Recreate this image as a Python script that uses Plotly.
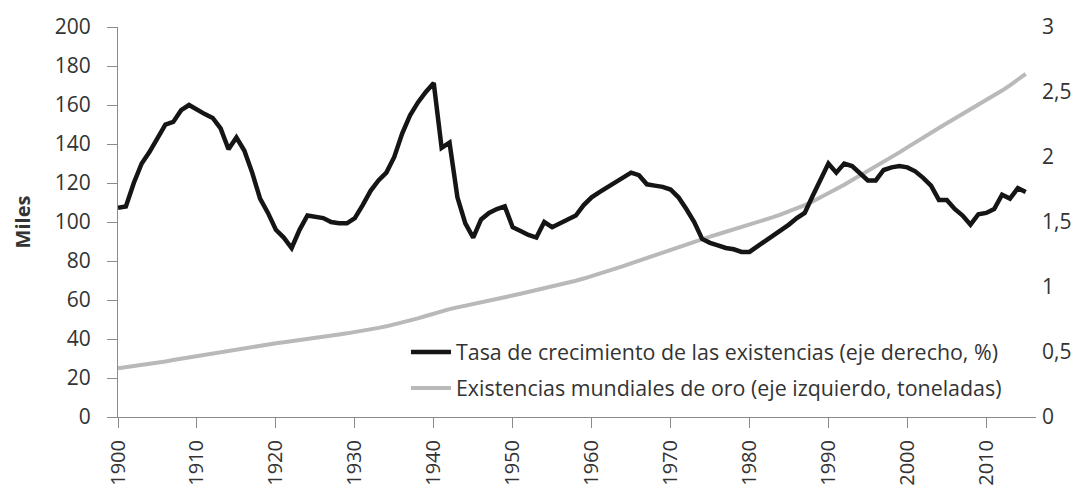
import plotly.graph_objects as go

# years 1900-2015
years = list(range(1900, 2016))

# growth rate of gold stocks, % (right axis)
growth_rate = [
    1.61, 1.62, 1.80, 1.95, 2.04, 2.15, 2.25, 2.27, 2.36, 2.40,
    2.36, 2.33, 2.30, 2.22, 2.06, 2.15, 2.05, 1.88, 1.68, 1.57,
    1.44, 1.38, 1.30, 1.44, 1.55, 1.54, 1.53, 1.50, 1.49, 1.49,
    1.53, 1.63, 1.74, 1.82, 1.88, 2.00, 2.18, 2.32, 2.42, 2.50,
    2.57, 2.07, 2.11, 1.69, 1.49, 1.38, 1.52, 1.57, 1.60, 1.62,
    1.46, 1.43, 1.40, 1.38, 1.50, 1.46, 1.49, 1.52, 1.55, 1.63,
    1.69, 1.73, 1.77, 1.81, 1.85, 1.88, 1.86, 1.79, 1.78, 1.77,
    1.75, 1.69, 1.60, 1.50, 1.37, 1.34, 1.32, 1.30, 1.29, 1.27,
    1.27, 1.31, 1.35, 1.39, 1.44, 1.48, 1.53, 1.57, 1.70, 1.82,
    1.95, 1.88, 1.95, 1.93, 1.88, 1.82, 1.82, 1.90, 1.92, 1.93,
    1.92, 1.89, 1.84, 1.78, 1.67, 1.67, 1.60, 1.55, 1.48, 1.56,
    1.57, 1.60, 1.71, 1.68, 1.76, 1.73,
]

# world gold stocks, thousand tonnes (left axis)
gold_stock = [
    25.0, 25.5, 26.0, 26.6, 27.2, 27.8, 28.5, 29.2, 29.9, 30.6,
    31.3, 32.0, 32.7, 33.4, 34.1, 34.8, 35.5, 36.1, 36.7, 37.3,
    37.8, 38.3, 38.8, 39.3, 39.9, 40.5, 41.1, 41.7, 42.3, 42.9,
    43.5, 44.2, 44.9, 45.7, 46.5, 47.4, 48.4, 49.5, 50.6, 51.8,
    53.1, 54.2, 55.3, 56.2, 57.0, 57.8, 58.6, 59.5, 60.4, 61.4,
    62.3, 63.2, 64.1, 65.0, 65.9, 66.9, 67.9, 68.9, 69.9, 71.0,
    72.2, 73.4, 74.7, 76.0, 77.4, 78.8, 80.2, 81.6, 83.1, 84.5,
    86.0, 87.4, 88.8, 90.1, 91.3, 92.5, 93.7, 94.9, 96.1, 97.3,
    98.5, 99.8, 101.1, 102.5, 103.9, 105.4, 107.0, 108.7, 110.5, 112.5,
    114.7, 116.9, 119.1, 121.4, 123.7, 126.0, 128.3, 130.7, 133.2, 135.7,
    138.3, 140.9, 143.4, 145.9, 148.2, 150.6, 153.0, 155.3, 157.5, 159.9,
    162.3, 164.8, 167.4, 170.1, 173.0, 176.0,
]

x_ticks = list(range(1900, 2011, 10))
font_family = "Open Sans, sans-serif"
text_color = "#333333"
axis_color = "#8a8a8a"

fig = go.Figure()
fig.add_trace(go.Scatter(
    x=years, y=gold_stock, mode="lines",
    name="Existencias mundiales de oro (eje izquierdo, toneladas)",
    line=dict(color="#b9b9b9", width=4),
    yaxis="y", legend="legend2",
))
fig.add_trace(go.Scatter(
    x=years, y=growth_rate, mode="lines",
    name="Tasa de crecimiento de las existencias (eje derecho, %)",
    line=dict(color="#151515", width=4.5),
    yaxis="y2", legend="legend",
))

legend_common = dict(
    xanchor="left", yanchor="middle", bgcolor="rgba(0,0,0,0)",
    font=dict(family=font_family, size=21.4, color=text_color),
    itemwidth=40,
)

# the page body has an 8px margin, so the figure is a bit smaller than the window
fig.update_layout(
    width=1065, height=481,
    margin=dict(l=110, r=37, t=19, b=72),
    plot_bgcolor="white", paper_bgcolor="white",
    separators=",.",
    showlegend=True,
    font=dict(family=font_family, size=21, color=text_color),
    xaxis=dict(
        range=[1900, 2016.3], tickvals=x_ticks, tickangle=-90,
        showgrid=False, zeroline=False, automargin=False,
        showline=True, linecolor=axis_color, linewidth=1,
        ticks="outside", ticklen=10, tickcolor=axis_color,
        ticklabelstandoff=4,
        tickfont=dict(size=20, color=text_color),
    ),
    yaxis=dict(
        range=[0, 200], dtick=20, showgrid=False, zeroline=False,
        automargin=False,
        showline=True, linecolor=axis_color, linewidth=1,
        ticks="outside", ticklen=10, tickcolor=axis_color,
        ticklabelstandoff=12,
        tickfont=dict(size=21, color=text_color),
        title=dict(text="<b>Miles</b>", font=dict(size=20, color=text_color), standoff=18),
    ),
    yaxis2=dict(
        range=[0, 3], dtick=0.5, overlaying="y", side="right",
        showgrid=False, zeroline=False, showline=False, ticks="",
        automargin=False, ticklabelstandoff=5,
        tickfont=dict(size=21, color=text_color),
    ),
    legend=dict(x=0.3137, y=0.1667, **legend_common),
    legend2=dict(x=0.3137, y=0.0744, **legend_common),
)

fig.write_html("out.html")
